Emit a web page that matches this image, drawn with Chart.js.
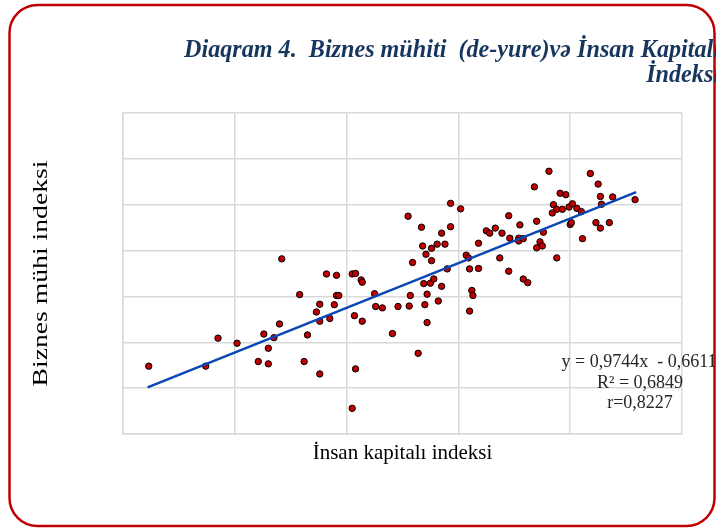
<!DOCTYPE html>
<html>
<head>
<meta charset="utf-8">
<script src="https://cdn.jsdelivr.net/npm/chart.js@4.4.1/dist/chart.umd.min.js"></script>
<style>
  html, body { margin: 0; padding: 0; background: #fff; overflow: hidden; }
</style>
</head>
<body>
<canvas id="chart" width="716" height="530"></canvas>
<script>
// Insan kapitali indeksi (x) vs Biznes muhiti indeksi (y)
const xvals = [
  1.73, 2.24, 2.35, 2.52, 2.71, 2.80, 2.76, 2.85, 2.80, 2.90,
  2.92, 3.08, 3.12, 3.15, 3.26, 3.55, 3.32, 3.41, 3.55, 3.58,
  3.63, 3.64, 3.41, 3.43, 3.26, 3.39, 3.23, 3.26, 3.35, 3.57,
  3.64, 3.58, 3.75, 3.76, 3.82, 3.96, 4.06, 4.20, 4.32, 3.91,
  4.14, 4.22, 4.07, 4.22, 4.19, 4.25, 4.28, 4.35, 4.09, 4.26,
  4.21, 4.18, 4.26, 4.31, 4.38, 4.40, 4.35, 4.17, 4.43, 4.05,
  4.43, 4.52, 4.57, 4.59, 4.60, 4.68, 4.62, 4.63, 4.60, 4.68,
  4.75, 4.78, 4.83, 4.89, 4.96, 5.04, 5.04, 5.08, 4.87, 4.95,
  5.08, 5.12, 4.95, 5.05, 5.20, 5.18, 5.26, 5.23, 5.25, 5.20,
  5.38, 5.31, 5.41, 5.46, 5.35, 5.38, 5.43, 5.34, 5.49, 5.52,
  5.56, 5.60, 5.68, 5.75, 5.77, 5.88, 6.08, 5.78, 5.50, 5.51,
  5.73, 5.85, 5.77, 5.61
];
const yvals = [
  1.48, 1.48, 2.09, 1.98, 1.58, 1.53, 2.18, 2.10, 1.87, 2.40,
  3.82, 3.04, 1.58, 2.16, 1.31, 0.56, 3.49, 3.46, 3.49, 3.50,
  3.36, 3.31, 3.02, 3.02, 2.83, 2.82, 2.66, 2.46, 2.52, 2.58,
  2.46, 1.42, 3.06, 2.78, 2.75, 2.78, 2.79, 2.82, 2.90, 2.19,
  1.76, 2.43, 3.02, 3.05, 3.28, 3.29, 3.38, 3.22, 3.74, 3.78,
  3.92, 4.10, 4.05, 4.14, 4.14, 3.60, 4.38, 4.51, 4.52, 4.75,
  5.03, 4.91, 3.90, 3.84, 3.60, 3.61, 3.13, 3.02, 2.68, 4.16,
  4.43, 4.38, 4.49, 4.38, 4.27, 4.27, 4.21, 4.26, 3.84, 3.55,
  3.38, 3.30, 4.76, 4.56, 4.64, 5.39, 4.40, 4.19, 4.10, 4.06,
  3.84, 5.73, 5.25, 5.22, 5.00, 4.90, 4.90, 4.82, 4.95, 5.02,
  4.92, 4.85, 5.68, 5.45, 5.18, 5.17, 5.11, 5.01, 4.57, 4.61,
  4.61, 4.61, 4.49, 4.26
];

// linear trend from the equation printed on the chart
const slope = 0.9744;
const intercept = -0.6611;
const trendX = [1.72, 6.09];

const titleLines = ['Diaqram 4.  Biznes mühiti  (de-yure)və İnsan Kapitalı', 'İndeksi'];
const xTitle = 'İnsan kapitalı indeksi';
const yTitle = 'Biznes mühi indeksi';
const eqLines = ['y = 0,9744x  - 0,6611', 'R² = 0,6849', 'r=0,8227'];

const fram = document.getElementById('chart');

// frame, title, axis titles and the equation box
const textPlugin = {
  id: 'texts',
  beforeDraw(chart) {
    const c = chart.ctx;
    c.save();
    c.strokeStyle = '#c00000';
    c.lineWidth = 2.5;
    c.beginPath();
    c.roundRect(9.5, 5, 705, 521, 28);
    c.stroke();
    c.restore();
  },
  afterDraw(chart) {
    const c = chart.ctx;
    c.save();
    // title
    c.fillStyle = '#17365d';
    c.font = 'italic bold 25px "Liberation Serif", "Times New Roman", serif';
    c.textBaseline = 'alphabetic';
    const left = 184;
    const w = c.measureText(titleLines[0]).width;
    const sx = Math.min(1, (720 - left) / w);
    c.save();
    c.translate(left, 57);
    c.scale(sx, 1);
    c.textAlign = 'left';
    c.fillText(titleLines[0], 0, 0);
    c.restore();
    c.save();
    c.translate(left + w * sx, 82);
    c.scale(sx, 1);
    c.textAlign = 'right';
    c.fillText(titleLines[1], 0, 0);
    c.restore();

    // axis titles
    c.fillStyle = '#000';
    c.font = '21px "Liberation Serif", "Times New Roman", serif';
    c.textAlign = 'center';
    const area = chart.chartArea;
    c.fillText(xTitle, (area.left + area.right) / 2, 459);
    c.font = '20px "Liberation Serif", "Times New Roman", serif';
    const yw = c.measureText(yTitle).width;
    c.save();
    c.translate(47, (area.top + area.bottom) / 2);
    c.rotate(-Math.PI / 2);
    c.scale(226 / yw, 1);
    c.fillText(yTitle, 0, 0);
    c.restore();

    // equation
    c.fillStyle = '#262626';
    c.font = '18px "Liberation Serif", "Times New Roman", serif';
    c.fillText(eqLines[0], 639, 367);
    c.fillText(eqLines[1], 640, 388);
    c.fillText(eqLines[2], 640, 408);
    c.restore();
  }
};

const points = xvals.map((x, i) => ({ x: x, y: yvals[i] }));
const trend = trendX.map((x) => ({ x: x, y: slope * x + intercept }));

const mychart = new Chart(fram, {
  type: 'scatter',
  data: {
    datasets: [
      {
        label: 'countries',
        data: points,
        backgroundColor: '#c00000',
        borderColor: '#000000',
        borderWidth: 1,
        pointRadius: 3.2,
        order: 2,
      },
      {
        type: 'line',
        label: 'trend',
        data: trend,
        borderColor: '#0a47b5',
        borderWidth: 2.5,
        pointRadius: 0,
        fill: false,
        order: 1,
      },
    ],
  },
  options: {
    responsive: false,
    animation: false,
    devicePixelRatio: 1,
    layout: { padding: { left: 123, top: 113, right: 34, bottom: 96 } },
    plugins: { legend: { display: false }, tooltip: { enabled: false } },
    scales: {
      x: {
        type: 'linear',
        min: 1.5,
        max: 6.5,
        ticks: { display: false, stepSize: 1 },
        grid: { color: '#d9d9d9', lineWidth: 1.5, drawTicks: false },
        border: { color: '#d9d9d9', width: 1.5 },
      },
      y: {
        type: 'linear',
        min: 0,
        max: 7,
        ticks: { display: false, stepSize: 1 },
        grid: { color: '#d9d9d9', lineWidth: 1.5, drawTicks: false },
        border: { color: '#d9d9d9', width: 1.5 },
      },
    },
  },
  plugins: [textPlugin],
});
</script>
</body>
</html>
